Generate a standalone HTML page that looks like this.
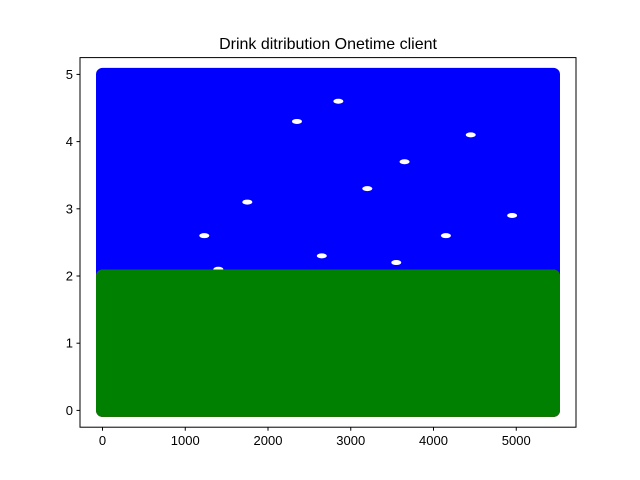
<!DOCTYPE html>
<html><head><meta charset="utf-8"><style>
body{margin:0;background:#fff;}
svg{display:block;font-family:"Liberation Sans","DejaVu Sans",sans-serif;}
</style></head><body>
<svg id="chart" width="640" height="480" viewBox="0 0 640 480">
<rect width="640" height="480" fill="#fff"/>
<text x="328" y="49" text-anchor="middle" font-size="16" fill="#000">Drink ditribution Onetime client</text>
<g id="plot"></g>
<rect x="80" y="57.6" width="496" height="369.6" fill="none" stroke="#000" stroke-width="1"/>
<g id="axes"></g>
</svg>
<script>
const seriesNames=["blue-client","red-client","green-client"];
const seriesColors=["#0000ff","#ff0000","#008000"];
const seriesXMin=[0,0,0];
const seriesXMax=[5450,5450,5450];
const seriesYMin=[0,0,0];
const seriesYMax=[5,2,2];
const holeX=[1230,1750,2350,2650,3200,3650,4150,4450,4950,1400,2850,3550];
const holeY=[2.6,3.1,4.3,2.3,3.3,3.7,2.6,4.1,2.9,2.1,4.6,2.2];
const xTicks=[0,1000,2000,3000,4000,5000];
const yTicks=[0,1,2,3,4,5];
const X0=80,X1=576,Y0=427.2,Y1=57.6,xmin=-272,xmax=5722,ymin=-0.25,ymax=5.25;
const xs=v=>X0+(v-xmin)/(xmax-xmin)*(X1-X0);
const ys=v=>Y0-(v-ymin)/(ymax-ymin)*(Y0-Y1);
const NS="http://www.w3.org/2000/svg";
const plot=document.getElementById('plot'),axes=document.getElementById('axes');
const R=6.5;
for(let i=0;i<seriesNames.length;i++){
  const r=document.createElementNS(NS,'rect');
  const x=xs(seriesXMin[i])-R,y=ys(seriesYMax[i])-R;
  r.setAttribute('x',x);r.setAttribute('y',y);
  r.setAttribute('width',xs(seriesXMax[i])-xs(seriesXMin[i])+2*R);
  r.setAttribute('height',ys(seriesYMin[i])-ys(seriesYMax[i])+2*R);
  r.setAttribute('rx',R);r.setAttribute('fill',seriesColors[i]);
  
  
  plot.appendChild(r);
  if(i===0){
    for(let k=0;k<holeX.length;k++){
      const e=document.createElementNS(NS,'ellipse');
      e.setAttribute('cx',xs(holeX[k]));e.setAttribute('cy',ys(holeY[k]));
      e.setAttribute('rx',5);e.setAttribute('ry',2.5);e.setAttribute('fill','#fff');
      
      
      plot.appendChild(e);
    }
  }
}
xTicks.forEach(t=>{
  const l=document.createElementNS(NS,'line');
  l.setAttribute('x1',xs(t));l.setAttribute('x2',xs(t));l.setAttribute('y1',Y0);l.setAttribute('y2',Y0+3.5);l.setAttribute('stroke','#000');
  
  
  axes.appendChild(l);
  const tx=document.createElementNS(NS,'text');
  tx.setAttribute('x',xs(t));tx.setAttribute('y',Y0+18);tx.setAttribute('text-anchor','middle');tx.setAttribute('font-size','13');
  tx.textContent=t;
  
  
  axes.appendChild(tx);
});
yTicks.forEach(t=>{
  const l=document.createElementNS(NS,'line');
  l.setAttribute('x1',X0-3.5);l.setAttribute('x2',X0);l.setAttribute('y1',ys(t));l.setAttribute('y2',ys(t));l.setAttribute('stroke','#000');
  
  
  axes.appendChild(l);
  const tx=document.createElementNS(NS,'text');
  tx.setAttribute('x',X0-7);tx.setAttribute('y',ys(t)+4.5);tx.setAttribute('text-anchor','end');tx.setAttribute('font-size','13');
  tx.textContent=t;
  
  
  axes.appendChild(tx);
});
</script>
</body></html>
